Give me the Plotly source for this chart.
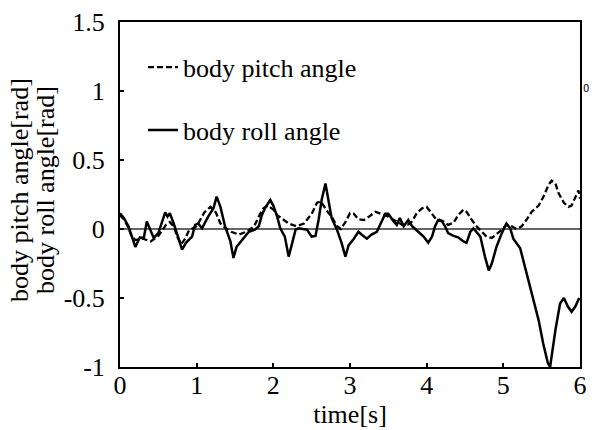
import plotly.graph_objects as go

# body pitch angle (dashed)
pitch_t = [0.0, 0.05, 0.1, 0.15, 0.2, 0.3, 0.4, 0.5, 0.55, 0.6, 0.65, 0.7, 0.75, 0.8, 0.85, 0.9,
           1.0, 1.05, 1.1, 1.18, 1.25, 1.31, 1.39, 1.45, 1.55, 1.65, 1.75, 1.81, 1.87, 1.93,
           2.0, 2.05, 2.1, 2.2, 2.3, 2.4, 2.5, 2.57, 2.62, 2.7, 2.76, 2.83, 2.88, 2.94,
           3.0, 3.05, 3.11, 3.18, 3.25, 3.33, 3.4, 3.5, 3.55, 3.61, 3.68, 3.75, 3.81, 3.87, 3.94,
           4.0, 4.05, 4.11, 4.22, 4.28, 4.35, 4.41, 4.48, 4.52, 4.59, 4.65, 4.72, 4.78, 4.85, 4.91, 4.98,
           5.04, 5.11, 5.17, 5.24, 5.3, 5.37, 5.46, 5.52, 5.59, 5.63, 5.68, 5.72, 5.79, 5.85, 5.89,
           5.94, 5.98, 6.0]
pitch_v = [0.10, 0.07, 0.02, -0.05, -0.08, -0.07, -0.09, -0.05, -0.01, 0.03, 0.05, 0.02, -0.06, -0.11, -0.07, -0.01,
           0.02, 0.07, 0.12, 0.16, 0.12, 0.04, 0.0, -0.02, -0.04, -0.02, 0.02, 0.09, 0.15, 0.17,
           0.14, 0.10, 0.08, 0.04, 0.02, 0.04, 0.11, 0.19, 0.20, 0.13, 0.09, 0.02, 0.0, 0.05,
           0.115, 0.11, 0.07, 0.065, 0.09, 0.125, 0.11, 0.09, 0.07, 0.055, 0.03, 0.03, 0.055, 0.115, 0.15,
           0.16, 0.125, 0.08, 0.055, 0.03, 0.045, 0.10, 0.14, 0.125, 0.065, 0.02, -0.02, -0.055, -0.065, -0.04, -0.005,
           0.03, 0.02, 0.0, 0.02, 0.065, 0.125, 0.17, 0.23, 0.32, 0.35, 0.33, 0.26, 0.19, 0.16, 0.17,
           0.23, 0.28, 0.22]

# body roll angle (solid)
roll_t = [0.0, 0.05, 0.11, 0.2, 0.26, 0.31, 0.35, 0.39, 0.44, 0.5, 0.55, 0.59, 0.62, 0.65, 0.7, 0.76,
          0.81, 0.86, 0.94, 0.98, 1.02, 1.07, 1.15, 1.22, 1.26, 1.31, 1.37, 1.44, 1.48, 1.52, 1.59,
          1.68, 1.76, 1.81, 1.85, 1.89, 1.96, 2.0, 2.05, 2.09, 2.15, 2.2, 2.24, 2.29, 2.33, 2.44,
          2.5, 2.55, 2.59, 2.63, 2.68, 2.72, 2.76, 2.83, 2.89, 2.94, 2.98, 3.05, 3.11, 3.15, 3.22,
          3.28, 3.35, 3.46, 3.5, 3.57, 3.61, 3.65, 3.7, 3.76, 3.81, 3.89, 3.96, 4.02, 4.07, 4.11,
          4.15, 4.2, 4.24, 4.28, 4.35, 4.41, 4.48, 4.52, 4.57, 4.61, 4.65, 4.7, 4.76, 4.81, 4.85,
          4.91, 4.98, 5.04, 5.09, 5.13, 5.22, 5.28, 5.37, 5.46, 5.52, 5.58, 5.61, 5.68, 5.74, 5.79,
          5.84, 5.89, 5.94, 5.99]
roll_v = [0.114, 0.08, 0.02, -0.13, -0.06, -0.065, 0.055, -0.005, -0.065, -0.03, 0.055, 0.12, 0.09, 0.115, 0.04, -0.055,
          -0.15, -0.10, -0.055, 0.03, 0.04, 0.005, 0.09, 0.15, 0.235, 0.16, 0.02, -0.09, -0.21, -0.13, -0.08,
          -0.02, -0.005, 0.02, 0.10, 0.15, 0.21, 0.17, 0.09, 0.005, -0.055, -0.20, -0.115, -0.005, 0.005, -0.005,
          -0.055, -0.05, 0.065, 0.21, 0.33, 0.21, 0.08, -0.005, -0.10, -0.20, -0.12, -0.07, -0.02, -0.04, -0.07,
          -0.04, -0.02, 0.11, 0.11, 0.055, 0.03, 0.08, 0.02, 0.065, 0.02, -0.02, -0.055, -0.10, -0.055, 0.02,
          0.065, 0.055, 0.02, -0.03, -0.05, -0.06, -0.09, -0.10, -0.02, 0.005, -0.02, -0.055, -0.20, -0.30, -0.25,
          -0.13, -0.03, 0.04, 0.005, -0.07, -0.14, -0.27, -0.47, -0.66, -0.83, -0.97, -1.0, -0.73, -0.54, -0.50,
          -0.56, -0.60, -0.56, -0.50]

x_ticks = [0, 1, 2, 3, 4, 5, 6]
y_ticks = [-1, -0.5, 0, 0.5, 1, 1.5]
y_tick_text = ["-1", "-0.5", "0", "0.5", "1", "1.5"]

FONT = "Liberation Serif"
FS = 26

fig = go.Figure()
fig.add_trace(go.Scatter(x=pitch_t, y=pitch_v, mode="lines", name="body pitch angle",
                         line=dict(color="black", width=2.3, dash="6px,3px"), legendgroup="a"))
fig.add_trace(go.Scatter(x=roll_t, y=roll_v, mode="lines", name="body roll angle",
                         line=dict(color="black", width=2.5), legendgroup="b"))

fig.update_layout(
    width=592, height=430,
    margin=dict(l=120, r=12, t=22, b=63, autoexpand=False),
    paper_bgcolor="white", plot_bgcolor="white",
    font=dict(family=FONT, size=FS, color="black"),
    showlegend=True,
    legend=dict(x=0.05, y=0.937, xanchor="left", yanchor="top",
                bgcolor="rgba(0,0,0,0)", tracegroupgap=26,
                font=dict(family=FONT, size=FS, color="black")),
    xaxis=dict(range=[0, 6], tickvals=x_ticks, ticks="inside", ticklen=4, tickwidth=1.5,
               tickcolor="black", showline=True, linecolor="black", linewidth=2, mirror=True,
               showgrid=False, zeroline=False, ticklabelstandoff=-6,
               title=dict(text="time[s]", standoff=2, font=dict(family=FONT, size=FS))),
    yaxis=dict(range=[-1, 1.5], tickvals=y_ticks, ticktext=y_tick_text, ticks="inside", ticklen=4,
               tickwidth=1.5, tickcolor="black", showline=True, linecolor="black", linewidth=2,
               mirror=True, showgrid=False, zeroline=True, zerolinecolor="#666666", zerolinewidth=1.5,
               ticklabelstandoff=8),
)

fig.add_annotation(text="body pitch angle[rad]", textangle=-90, xref="paper", yref="paper",
                   x=(19 - 120) / 460, y=(367 - 190) / 345, xanchor="center", yanchor="middle",
                   showarrow=False, font=dict(family=FONT, size=FS, color="black"))
fig.add_annotation(text="body roll angle[rad]", textangle=-90, xref="paper", yref="paper",
                   x=(45 - 120) / 460, y=(367 - 190) / 345, xanchor="center", yanchor="middle",
                   showarrow=False, font=dict(family=FONT, size=FS, color="black"))
fig.add_annotation(text="0", xref="paper", yref="paper", x=(586 - 120) / 460, y=(367 - 88) / 345,
                   xanchor="center", yanchor="middle", showarrow=False,
                   font=dict(family="DejaVu Sans", size=10, color="black"))

fig.write_html("out.html")
